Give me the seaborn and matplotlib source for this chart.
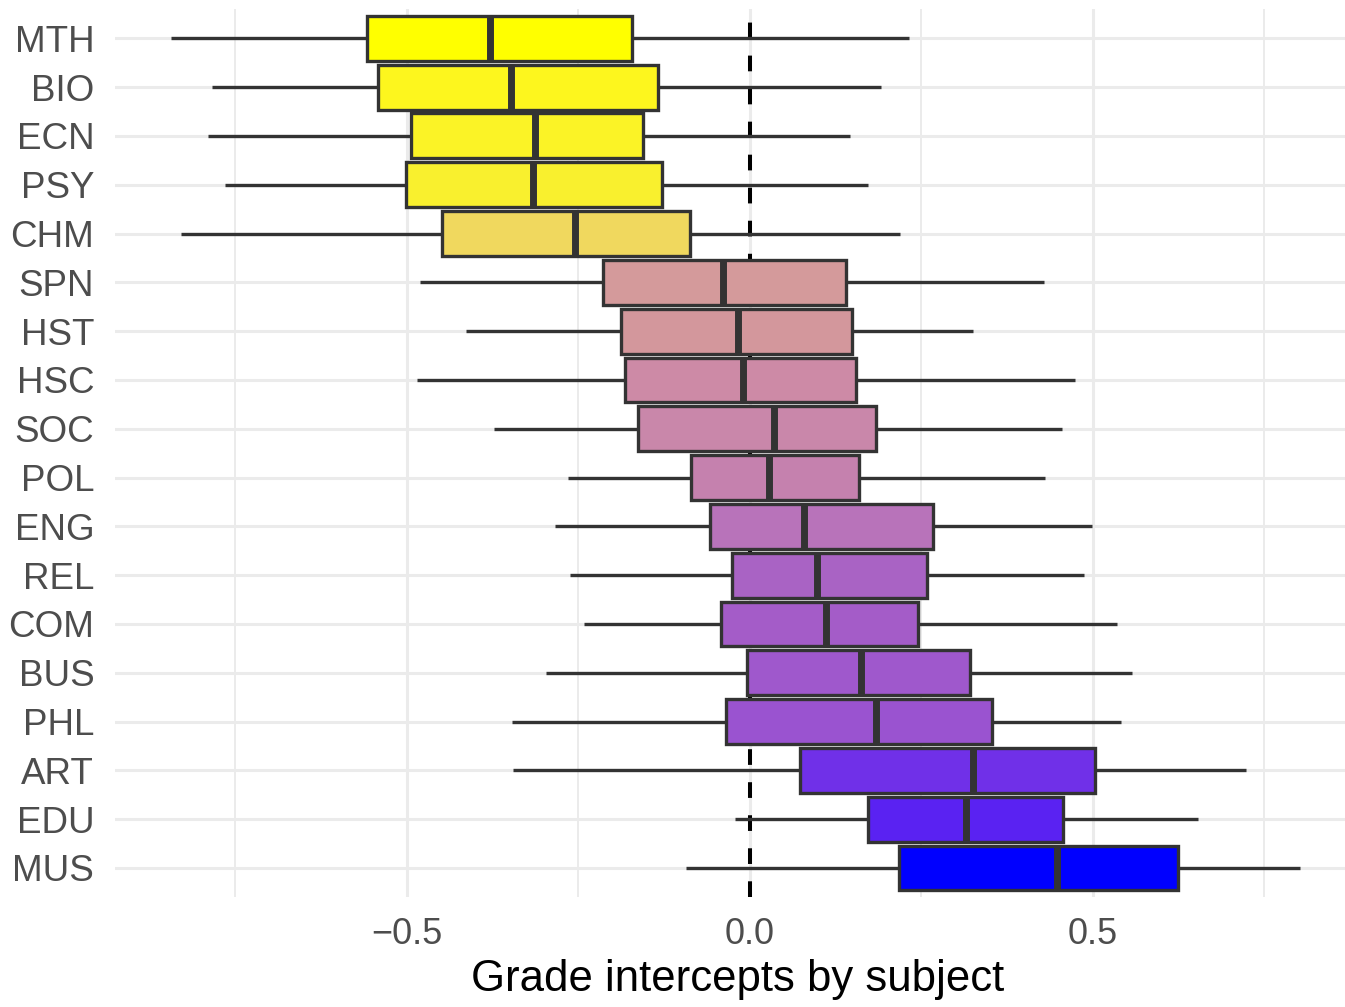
import numpy as np
import pandas as pd
import matplotlib
matplotlib.use("Agg")
import matplotlib.pyplot as plt
import seaborn as sns

# ---- data ----
subjects = ["MTH", "BIO", "ECN", "PSY", "CHM", "SPN", "HST", "HSC", "SOC",
            "POL", "ENG", "REL", "COM", "BUS", "PHL", "ART", "EDU", "MUS"]
whisker_low = [-0.843, -0.783, -0.790, -0.764, -0.829, -0.480, -0.413, -0.485, -0.373,
               -0.265, -0.284, -0.262, -0.242, -0.297, -0.347, -0.345, -0.021, -0.093]
q1 = [-0.557, -0.541, -0.494, -0.501, -0.448, -0.214, -0.187, -0.182, -0.163,
      -0.086, -0.058, -0.025, -0.042, -0.003, -0.035, 0.073, 0.173, 0.218]
median = [-0.379, -0.348, -0.313, -0.316, -0.254, -0.038, -0.017, -0.010, 0.036,
          0.029, 0.079, 0.099, 0.112, 0.163, 0.185, 0.325, 0.315, 0.448]
q3 = [-0.171, -0.133, -0.155, -0.127, -0.087, 0.141, 0.150, 0.155, 0.185,
      0.160, 0.267, 0.258, 0.245, 0.321, 0.354, 0.503, 0.457, 0.625]
whisker_high = [0.233, 0.191, 0.147, 0.172, 0.219, 0.429, 0.325, 0.474, 0.456,
                0.431, 0.499, 0.487, 0.535, 0.557, 0.541, 0.724, 0.654, 0.803]
x_ticks = [-0.5, 0.0, 0.5]
x_label = "Grade intercepts by subject"

# fill colours (yellow -> pink -> purple -> blue gradient)
fill_colors = ["#FFFF00", "#FDF61E", "#FBF326", "#F9F02E", "#F0D85E", "#D49A9B",
               "#D3979C", "#CD8AA6", "#C987AA", "#C581AE", "#B873BA", "#A963C4",
               "#A45CC8", "#9F58CC", "#9A53D0", "#7030E8", "#5A22F2", "#0000FF"]

# five-number data per subject -> seaborn computes the same box statistics
rows = []
for i, s in enumerate(subjects):
    for v in (whisker_low[i], q1[i], median[i], q3[i], whisker_high[i]):
        rows.append({"subject": s, "value": v})
df = pd.DataFrame(rows)
palette = dict(zip(subjects, fill_colors))

# ---- figure ----
sns.set_theme(style="whitegrid")
plt.rcParams["font.family"] = ["Liberation Sans", "DejaVu Sans"]

fig = plt.figure(figsize=(13.45, 10.07), dpi=100)
ax = fig.add_axes([0.0855, 0.109, 0.9145, 0.882])

line_col = "#333333"
sns.boxplot(data=df, x="value", y="subject", hue="subject", order=subjects,
            hue_order=subjects, palette=palette, legend=False, whis=(0, 100),
            width=0.92, saturation=1, linecolor=line_col, linewidth=2.4,
            showcaps=False, dodge=False,
            medianprops={"linewidth": 5.0, "color": line_col},
            ax=ax)

ax.axvline(0, color="black", lw=2.9, ls=(0, (3.9, 4.3)), zorder=1.5)

ax.set_xlim(-0.925, 0.868)
ax.set_ylim(len(subjects) - 0.4, -0.6)
ax.set_xticks(x_ticks)
ax.set_xticklabels([f"{t:.1f}".replace("-", "\u2212") for t in x_ticks])
ax.set_xticks([-0.75, -0.25, 0.25, 0.75], minor=True)

ax.set_axisbelow(True)
ax.grid(which="major", axis="both", color="#EBEBEB", lw=2.2)
ax.grid(which="minor", axis="x", color="#EBEBEB", lw=1.4)
for sp in ax.spines.values():
    sp.set_visible(False)

ax.tick_params(axis="both", which="both", length=0)
ax.tick_params(axis="x", pad=14, labelsize=26, labelcolor="#4D4D4D")
ax.tick_params(axis="y", pad=15, labelsize=26.5, labelcolor="#4D4D4D")
ax.set_ylabel("")
ax.set_xlabel(x_label, fontsize=31.5, color="black", labelpad=8)
ax.xaxis.set_label_coords(0.506, -0.069)
ax.xaxis.label.set_verticalalignment("top")

fig.savefig("out.png", dpi=100, facecolor="white")
